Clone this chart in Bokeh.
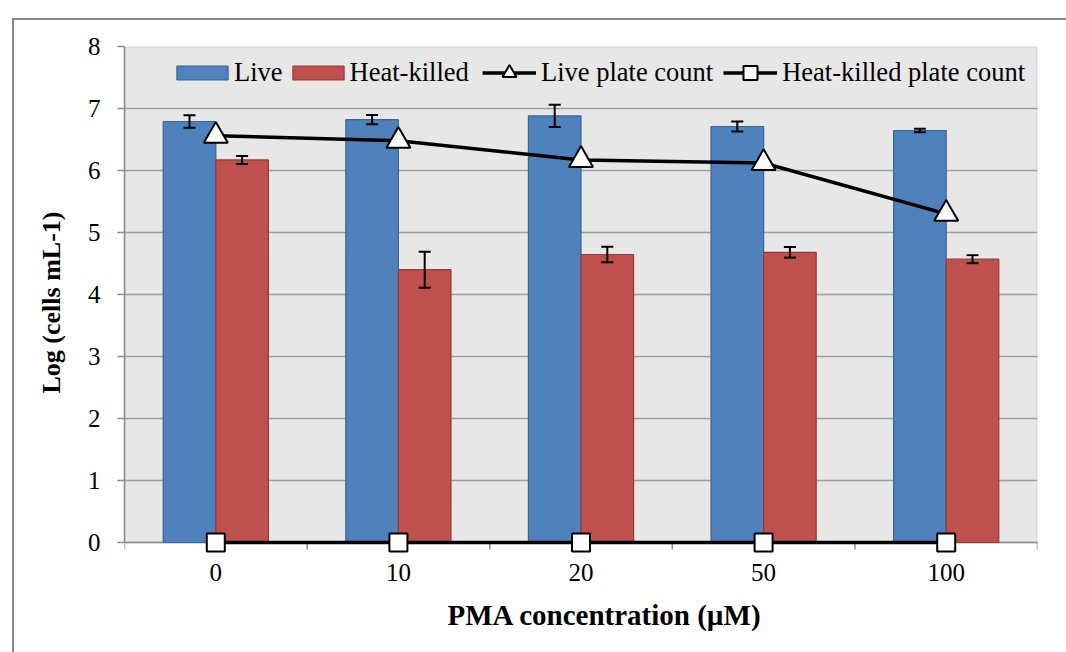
import numpy as np
from bokeh.plotting import figure
from bokeh.layouts import column
from bokeh.models import (ColumnDataSource, Range1d, FixedTicker, Whisker, TeeHead,
                          Legend, LegendItem, BoxAnnotation, Span, Div, Title)
from bokeh.embed import file_html
from bokeh.resources import INLINE

# ---- data ----
categories = ["0", "10", "20", "50", "100"]
live = [6.79, 6.82, 6.88, 6.71, 6.645]
live_err = [0.10, 0.075, 0.18, 0.08, 0.03]
heat_killed = [6.17, 4.40, 4.645, 4.68, 4.57]
heat_killed_err = [0.065, 0.29, 0.125, 0.085, 0.065]
live_plate = [6.56, 6.48, 6.17, 6.12, 5.30]
hk_plate = [0, 0, 0, 0, 0]
y_ticks = [0, 1, 2, 3, 4, 5, 6, 7, 8]
x_title = "PMA concentration (\u00b5M)"
y_title = "Log (cells mL-1)"

FONT = "Liberation Serif"
AXIS_GRAY = "#8A8A8A"
BAR_W = 0.288
OFF = 0.144
Y_PAD = 16 / 62.0   # extra room below zero so zero-line markers are not cut

x = np.arange(len(categories)) + 0.5
boundaries = np.arange(len(categories) + 1)
src = ColumnDataSource(dict(
    x=x, x_live=x - OFF, x_hk=x + OFF,
    live=live, hk=heat_killed,
    live_up=np.array(live) + np.array(live_err), live_lo=np.array(live) - np.array(live_err),
    hk_up=np.array(heat_killed) + np.array(heat_killed_err),
    hk_lo=np.array(heat_killed) - np.array(heat_killed_err),
    live_plate=live_plate, hk_plate=hk_plate,
))

p = figure(width=1058, height=652, x_range=Range1d(0, len(categories)),
           y_range=Range1d(y_ticks[0] - Y_PAD, y_ticks[-1]),
           output_backend="svg", toolbar_location=None,
           min_border_left=124, min_border_right=21, min_border_top=46, min_border_bottom=94)

p.background_fill_color = "white"
p.border_fill_color = "white"
p.outline_line_color = None

# plot area background (0..8) with light-blue border
bg = BoxAnnotation(bottom=y_ticks[0], top=y_ticks[-1], fill_color="#E7E7E7", fill_alpha=1,
                   line_color="#7EA6DA", line_width=2, level="image")
p.add_layout(bg)

# grid
p.xgrid.visible = False
p.ygrid.ticker = FixedTicker(ticks=y_ticks[1:-1])
p.ygrid.grid_line_color = "#9E9E9E"
p.ygrid.grid_line_width = 1.5

# y axis
p.yaxis.ticker = FixedTicker(ticks=y_ticks)
p.yaxis.bounds = (y_ticks[0], y_ticks[-1])
p.yaxis.axis_label = y_title
p.yaxis.axis_label_text_font = FONT
p.yaxis.axis_label_text_font_style = "bold"
p.yaxis.axis_label_text_font_size = "26px"
p.yaxis.axis_label_text_color = "black"
p.yaxis.axis_label_standoff = 19
p.yaxis.major_label_text_font = FONT
p.yaxis.major_label_text_font_size = "25px"
p.yaxis.major_label_text_color = "black"
p.yaxis.major_label_standoff = 17
p.yaxis.axis_line_color = AXIS_GRAY
p.yaxis.axis_line_width = 1.5
p.yaxis.major_tick_line_color = AXIS_GRAY
p.yaxis.major_tick_line_width = 1.5
p.yaxis.major_tick_out = 7
p.yaxis.major_tick_in = 0
p.yaxis.minor_tick_line_color = None

# x axis: labels from the axis, rule + boundary ticks drawn at y = 0
p.xaxis.ticker = FixedTicker(ticks=list(x))
p.xaxis.major_label_overrides = {float(xi): c for xi, c in zip(x, categories)}
p.xaxis.major_label_text_font = FONT
p.xaxis.major_label_text_font_size = "25px"
p.xaxis.major_label_text_color = "black"
p.xaxis.major_label_standoff = 5
p.xaxis.axis_line_color = None
p.xaxis.major_tick_line_color = None
p.xaxis.minor_tick_line_color = None
p.xaxis.major_tick_out = 0
p.xaxis.major_tick_in = 0

# x-axis title (offset to the right, as in the original)
xt = Title(text=x_title, align="left", offset=323, vertical_align="top", standoff=30,
           text_font=FONT, text_font_style="bold", text_font_size="29px", text_color="black")
p.add_layout(xt, "below")

zero_rule = Span(location=y_ticks[0], dimension="width", line_color=AXIS_GRAY, line_width=1.5,
                 level="underlay")
p.add_layout(zero_rule)
p.ray(x=boundaries, y=[y_ticks[0]] * len(boundaries), length=7, length_units="screen",
      angle=-np.pi / 2, line_color=AXIS_GRAY, line_width=1.5)

# bars
r_live = p.vbar(x="x_live", top="live", bottom=0, width=BAR_W, source=src,
                fill_color="#4F81BD", line_color="#3A6595", line_width=1.2)
r_hk = p.vbar(x="x_hk", top="hk", bottom=0, width=BAR_W, source=src,
              fill_color="#C0504D", line_color="#923B39", line_width=1.2)

# error bars
for base, up, lo in (("x_live", "live_up", "live_lo"), ("x_hk", "hk_up", "hk_lo")):
    w = Whisker(base=base, upper=up, lower=lo, source=src, line_color="black", line_width=2,
                upper_head=TeeHead(size=12, line_width=2, line_color="black"),
                lower_head=TeeHead(size=12, line_width=2, line_color="black"),
                level="annotation")
    p.add_layout(w)

# plate counts
l_live = p.line(x="x", y="live_plate", source=src, line_color="black", line_width=3.5)
m_live = p.scatter(x="x", y="live_plate", source=src, marker="triangle", size=24,
                   fill_color="white", line_color="black", line_width=2)
l_hk = p.line(x="x", y="hk_plate", source=src, line_color="black", line_width=3.5)
m_hk = p.scatter(x="x", y="hk_plate", source=src, marker="square", size=18,
                 fill_color="white", line_color="black", line_width=2)


def style_legend(lg):
    lg.orientation = "horizontal"
    lg.label_text_font = FONT
    lg.label_text_font_size = "26.5px"
    lg.label_text_color = "black"
    lg.padding = 0
    lg.margin = 0
    lg.background_fill_alpha = 0
    lg.border_line_color = None


legend_bars = Legend(items=[
    LegendItem(label="Live", renderers=[r_live]),
    LegendItem(label="Heat-killed", renderers=[r_hk]),
], location=(46, 470))
style_legend(legend_bars)
legend_bars.glyph_width = 64
legend_bars.glyph_height = 17
legend_bars.label_standoff = 0
legend_bars.spacing = 3

legend_lines = Legend(items=[
    LegendItem(label="Live plate count", renderers=[l_live, m_live]),
    LegendItem(label="Heat-killed plate count", renderers=[l_hk, m_hk]),
], location=(358, 468))
style_legend(legend_lines)
legend_lines.glyph_width = 54
legend_lines.glyph_height = 35
legend_lines.label_standoff = 5
legend_lines.spacing = 10

p.add_layout(legend_bars)
p.add_layout(legend_lines)

# outer chart border (left and top edges visible, like the original chart frame)
frame_div = Div(text="", width=1055, height=635,
                styles={"position": "absolute", "left": "7px", "top": "13px",
                        "border-left": "2px solid #888888", "border-top": "2px solid #888888",
                        "pointer-events": "none", "z-index": "5"})

page = column(p, frame_div)
open("out.html", "w").write(file_html(page, INLINE))
